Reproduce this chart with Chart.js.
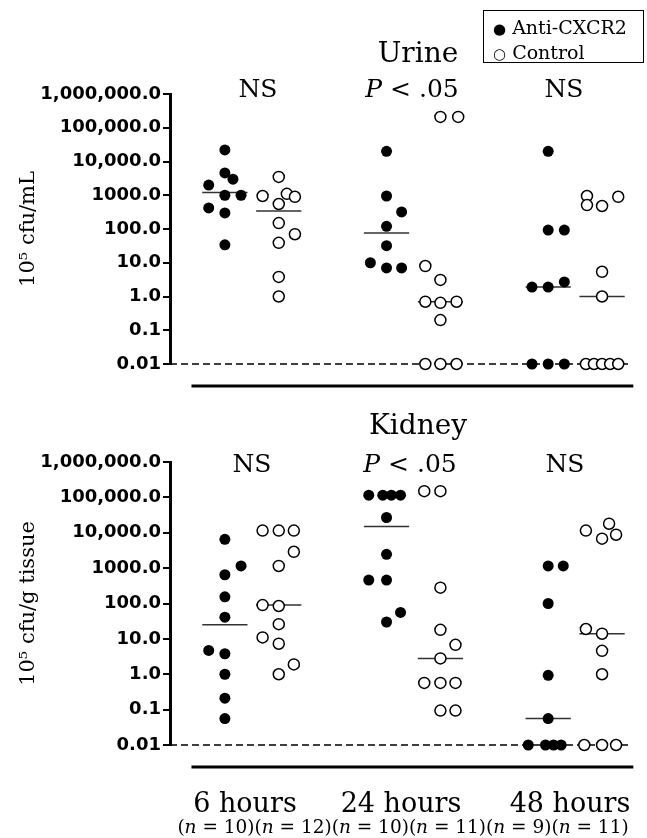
<!DOCTYPE html>
<html>
<head>
<meta charset="utf-8">
<script src="https://cdn.jsdelivr.net/npm/chart.js@4/dist/chart.umd.min.js"></script>
<style>
  body { margin: 0; background: #fff; }
  #wrap { position: relative; width: 647px; height: 838px; overflow: hidden; font-family: 'DejaVu Serif', serif; color: #000; }
  canvas { position: absolute; left: 0; }
  .txt { position: absolute; transform: translate(-50%, -50%); white-space: nowrap; line-height: 1; }
  #legend { position: absolute; left: 483px; top: 10px; width: 159px; height: 51px; border: 1.5px solid #000; font-size: 19px; }
  #legend div { position: absolute; left: 9px; white-space: nowrap; line-height: 1; }
</style>
</head>
<body>
<div id="wrap">
  <canvas id="urine" width="647" height="400" style="top:0"></canvas>
  <canvas id="kidney" width="647" height="438" style="top:400px"></canvas>
  <div id="legend">
    <div style="top:7px"><span style="font-size:15px">●</span> Anti-CXCR2</div>
    <div style="top:32px"><span style="font-size:15px">○</span> Control</div>
  </div>
  <div id="texts"></div>
</div>
<script>
// y axis
const yTicks = [1e6, 1e5, 1e4, 1e3, 100, 10, 1, 0.1, 0.01];
const yTickLabels = ['1,000,000.0', '100,000.0', '10,000.0', '1000.0', '100.0', '10.0', '1.0', '0.1', '0.01'];

// groups
const timeLabels = ['6 hours', '24 hours', '48 hours'];
const groupN = [10, 12, 10, 11, 9, 11];
const pLabels = ['NS', '<i>P</i> &lt; .05', 'NS'];
const groupPos = [0, 3, 6];   // anti-CXCR2 at pos, control at pos + 1

// Urine (10^5 cfu/mL)
const urineAnti = [
  [22000, 4600, 3000, 2000, 1000, 1000, 420, 300, 34],
  [20000, 950, 320, 120, 32, 10, 7, 7],
  [20000, 93, 93, 1.9, 1.9, 2.7, 0.01, 0.01, 0.01]
];
const urineAntiDx = [
  [0, 0, 0.15, -0.3, 0, 0.3, -0.3, 0, 0],
  [0, 0, 0.28, 0, 0, -0.3, 0, 0.28],
  [0, 0, 0.3, -0.3, 0, 0.3, -0.3, 0, 0.3]
];
const urineCtrl = [
  [3500, 950, 1100, 900, 550, 150, 70, 39, 3.8, 1.0],
  [210000, 210000, 8, 3.1, 0.7, 0.65, 0.7, 0.2, 0.01, 0.01, 0.01],
  [950, 510, 480, 900, 5.4, 1.0, 0.01, 0.01, 0.01, 0.01, 0.01]
];
const urineCtrlDx = [
  [0, -0.3, 0.15, 0.3, 0, 0, 0.3, 0, 0, 0],
  [0, 0.33, -0.28, 0, -0.28, 0, 0.3, 0, -0.28, 0, 0.3],
  [-0.28, -0.28, 0, 0.3, 0, 0, -0.3, -0.15, 0, 0.15, 0.3]
];
const urineMedAnti = [1200, 76, 1.9];
const urineMedCtrl = [340, 0.7, 1.0];

// Kidney (10^5 cfu/g tissue)
const kidneyAnti = [
  [6500, 1150, 650, 155, 41, 4.7, 3.8, 1.0, 0.21, 0.056],
  [115000, 115000, 115000, 115000, 27000, 2450, 460, 460, 30, 56],
  [1150, 1150, 100, 0.93, 0.056, 0.01, 0.01, 0.01, 0.01]
];
const kidneyAntiDx = [
  [0, 0.3, 0, 0, 0, -0.3, 0, 0, 0, 0],
  [-0.33, -0.07, 0.09, 0.26, 0, 0, -0.33, 0, 0, 0.26],
  [0, 0.28, 0, 0, 0, -0.37, -0.05, 0.1, 0.24]
];
const kidneyCtrl = [
  [11500, 11500, 11500, 2900, 1150, 90, 85, 26, 11, 7.3, 1.9, 1.0],
  [150000, 150000, 280, 18, 6.8, 2.8, 0.57, 0.57, 0.57, 0.094, 0.094],
  [11500, 18000, 6800, 8800, 19, 14, 4.6, 1.0, 0.01, 0.01, 0.01]
];
const kidneyCtrlDx = [
  [-0.3, 0, 0.28, 0.28, 0, -0.3, 0, 0, -0.3, 0, 0.28, 0],
  [-0.3, 0, 0, 0, 0.28, 0, -0.3, 0, 0.28, 0, 0.28],
  [-0.3, 0.13, 0, 0.26, -0.3, 0, 0, 0, -0.33, 0, 0.26]
];
const kidneyMedAnti = [25, 15000, 0.056];
const kidneyMedCtrl = [90, 2.8, 14];

const detectionLimit = 0.01;

// -------- text overlays --------
const texts = document.getElementById('texts');
function addText(html, x, y, size) {
  const d = document.createElement('div');
  d.className = 'txt';
  d.style.left = x + 'px';
  d.style.top = y + 'px';
  d.style.fontSize = size + 'px';
  d.innerHTML = html;
  texts.appendChild(d);
}
addText('Urine', 418, 53, 28);
addText('Kidney', 418, 425, 28);
[258, 412, 564].forEach((x, i) => addText(pLabels[i], x, 88, 25));
[252, 410, 565].forEach((x, i) => addText(pLabels[i], x, 463, 25));
[245, 401, 570].forEach((x, i) => addText(timeLabels[i], x, 802, 27));
addText(groupN.map(n => '(<i>n</i> = ' + n + ')').join(''), 403, 827, 18.5);

// -------- charts --------
const xMin = -1.0185, xMax = 7.704;

function pointsOf(vals, dx, shift) {
  return vals.flatMap((arr, g) => arr.map((v, i) => ({ x: groupPos[g] + shift + dx[g][i], y: v })));
}
function mediansOf(meds, shift) {
  const pts = [];
  meds.forEach((m, g) => {
    const p = groupPos[g] + shift;
    pts.push({ x: p - 0.42, y: m }, { x: p + 0.42, y: m }, { x: p + 0.5, y: null });
  });
  return pts;
}

// thick bar under each panel
const underline = {
  id: 'underline',
  afterDraw(chart) {
    const { ctx, chartArea, scales } = chart;
    const y = chartArea.bottom + 22;
    ctx.save();
    ctx.strokeStyle = '#000';
    ctx.lineWidth = 3;
    ctx.beginPath();
    ctx.moveTo(scales.x.getPixelForValue(-0.62), y);
    ctx.lineTo(scales.x.getPixelForValue(7.58), y);
    ctx.stroke();
    ctx.restore();
  }
};

function makeChart(id, title, anti, antiDx, ctrl, ctrlDx, medA, medC, pad) {
  return new Chart(document.getElementById(id), {
    type: 'scatter',
    data: {
      datasets: [
        {
          label: 'Anti-CXCR2',
          data: pointsOf(anti, antiDx, 0),
          backgroundColor: '#000',
          borderColor: '#000',
          pointRadius: 5.5,
          borderWidth: 0,
          order: 1,
          clip: false
        },
        {
          label: 'Control',
          data: pointsOf(ctrl, ctrlDx, 1),
          backgroundColor: '#fff',
          borderColor: '#000',
          pointRadius: 5.5,
          borderWidth: 1.5,
          order: 1,
          clip: false
        },
        {
          label: 'median',
          data: mediansOf(medA, 0).concat(mediansOf(medC, 1)),
          showLine: true,
          spanGaps: false,
          borderColor: '#333',
          borderWidth: 1.5,
          pointRadius: 0,
          order: 5
        },
        {
          label: 'limit',
          data: [{ x: xMin, y: detectionLimit }, { x: 7.55, y: detectionLimit }],
          showLine: true,
          borderColor: '#000',
          borderWidth: 1.5,
          borderDash: [7, 4],
          pointRadius: 0,
          order: 10,
          clip: false
        }
      ]
    },
    options: {
      responsive: false,
      animation: false,
      layout: { padding: pad },
      plugins: { legend: { display: false }, tooltip: { enabled: false } },
      scales: {
        x: { type: 'linear', min: xMin, max: xMax, display: false },
        y: {
          type: 'logarithmic',
          min: 0.01,
          max: 1e6,
          position: 'left',
          afterBuildTicks: s => { s.ticks = yTicks.map(v => ({ value: v })); },
          afterFit: s => { s.width = 170; },
          ticks: {
            autoSkip: false,
            padding: 2,
            color: '#000',
            font: { family: 'DejaVu Sans', weight: 'bold', size: 18 },
            callback: v => yTickLabels[yTicks.indexOf(v)]
          },
          grid: { drawOnChartArea: false, drawTicks: true, tickLength: 7, color: '#000', lineWidth: 2 },
          border: { display: true, color: '#000', width: 3 },
          title: {
            display: true,
            text: title,
            color: '#000',
            font: { family: 'DejaVu Serif', size: 21, weight: 'normal' },
            padding: { top: 16, bottom: 0 }
          }
        }
      }
    },
    plugins: [underline]
  });
}

makeChart('urine', '10⁵ cfu/mL', urineAnti, urineAntiDx, urineCtrl, urineCtrlDx,
  urineMedAnti, urineMedCtrl, { top: 94, bottom: 36, left: 0, right: 6 });
makeChart('kidney', '10⁵ cfu/g tissue', kidneyAnti, kidneyAntiDx, kidneyCtrl, kidneyCtrlDx,
  kidneyMedAnti, kidneyMedCtrl, { top: 62, bottom: 93, left: 0, right: 6 });
</script>
</body>
</html>
